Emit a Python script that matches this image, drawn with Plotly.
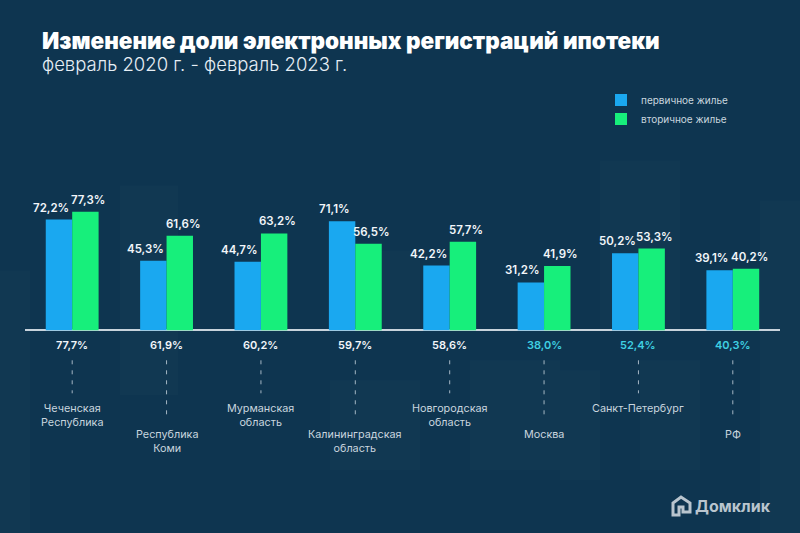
import plotly.graph_objects as go

# ---------------- data ----------------
regions = ["Чеченская<br>Республика", "Республика<br>Коми", "Мурманская<br>область",
           "Калининградская<br>область", "Новгородская<br>область", "Москва",
           "Санкт-Петербург", "РФ"]
primary = [72.2, 45.3, 44.7, 71.1, 42.2, 31.2, 50.2, 39.1]
secondary = [77.3, 61.6, 63.2, 56.5, 57.7, 41.9, 53.3, 40.2]
total = [77.7, 61.9, 60.2, 59.7, 58.6, 38.0, 52.4, 40.3]
highlight = [False, False, False, False, False, True, True, True]
series_names = ["первичное жилье", "вторичное жилье"]

title = "Изменение доли электронных регистраций ипотеки"
subtitle = "февраль 2020 г. - февраль 2023 г."

# ---------------- style ----------------
BG = "#0e3550"
BLUE = "#1aa8f0"
GREEN = "#17ef7b"
WHITE = "#f2f6fa"
CYAN = "#3fd0e2"
GREY = "#c9d5df"

W, H = 800, 533
L, R = 25, 20
Y_RANGE = [-127, 100]
PX_PER_UNIT = 1.535
plot_h = (Y_RANGE[1] - Y_RANGE[0]) * PX_PER_UNIT
T = 330 - Y_RANGE[1] * PX_PER_UNIT
B = H - T - plot_h
plot_w = W - L - R
BARGAP = 0.44
half = (1 - BARGAP) / 4  # offset of each bar centre from category centre


def px(xpix):
    return (xpix - L) / plot_w


def py(ypix):
    return (T + plot_h - ypix) / plot_h


def fmt(v):
    return f"{v:.1f}%".replace(".", ",")


xs = list(range(len(regions)))

fig = go.Figure()
fig.add_trace(go.Bar(x=xs, y=primary, name=series_names[0], marker_color=BLUE,
                     marker_line_width=0))
fig.add_trace(go.Bar(x=xs, y=secondary, name=series_names[1], marker_color=GREEN,
                     marker_line_width=0))

LBL_FONT = dict(family="Inter", size=11.5, color=WHITE, weight=600)
ann = []
for i in xs:
    ann.append(dict(x=i - half, y=primary[i], xref="x", yref="y", text=fmt(primary[i]),
                    showarrow=False, yanchor="bottom", yshift=3, xshift=-8, font=LBL_FONT))
    ann.append(dict(x=i + half, y=secondary[i], xref="x", yref="y", text=fmt(secondary[i]),
                    showarrow=False, yanchor="bottom", yshift=3, xshift=3, font=LBL_FONT))
    ann.append(dict(x=i, y=0, xref="x", yref="y", text=fmt(total[i]), showarrow=False,
                    yanchor="middle", yshift=-15,
                    font=dict(family="Inter", size=11, color=CYAN if highlight[i] else WHITE,
                              weight=600)))
    long_ = (i % 2 == 1)
    ann.append(dict(x=i, y=0, xref="x", yref="y", text=regions[i], showarrow=False,
                    yanchor="top", yshift=-96 if long_ else -70,
                    font=dict(family="Inter", size=10.8, color=GREY)))

shapes = []
for i in xs:
    long_ = (i % 2 == 1)
    shapes.append(dict(type="line", xref="x", yref="y", x0=i, x1=i,
                       ysizemode="pixel", yanchor=0, y0=-30, y1=-90 if long_ else -63,
                       line=dict(color="rgba(215,225,235,0.75)", width=1, dash="4px,6px"),
                       layer="above"))

# faint background blocks (decorative skyline)
blocks = [(0, 270, 30, 533), (120, 185, 178, 395), (355, 250, 420, 330),
          (330, 380, 420, 470), (470, 360, 560, 470), (560, 370, 600, 480),
          (600, 160, 680, 330), (640, 360, 700, 470), (760, 200, 800, 533)]
for x0, y0, x1, y1 in blocks:
    shapes.append(dict(type="rect", xref="paper", yref="paper",
                       x0=px(x0), x1=px(x1), y0=py(y1), y1=py(y0),
                       fillcolor="rgba(255,255,255,0.015)", line_width=0, layer="below"))

# logo icon (house outline)
house = [(673, 515), (673, 503), (681, 497), (690, 503), (690, 512), (683, 512),
         (683, 507), (679, 507), (679, 515)]
path = "M" + " L".join(f"{px(a):.5f},{py(b):.5f}" for a, b in house) + " Z"
shapes.append(dict(type="path", xref="paper", yref="paper", path=path,
                   line=dict(color="#b9c5ce", width=3), fillcolor="rgba(0,0,0,0)",
                   layer="above"))

ann.append(dict(xref="paper", yref="paper", x=px(693), y=py(506), xanchor="left",
                yanchor="middle", text="<b>Домклик</b>", showarrow=False,
                font=dict(family="Inter", size=16, color="#b9c5ce")))

# titles
ann.append(dict(xref="paper", yref="paper", x=px(40), y=py(40), xanchor="left",
                yanchor="middle", text=title, showarrow=False,
                font=dict(family="Inter", size=22.5, color="#ffffff", weight=900)))
ann.append(dict(xref="paper", yref="paper", x=px(40), y=py(63), xanchor="left",
                yanchor="middle", text=subtitle, showarrow=False,
                font=dict(family="Inter", size=18.5, color="#e6eef5", weight=300)))

fig.update_layout(
    width=W, height=H, autosize=False,
    margin=dict(l=L, r=R, t=T, b=B, pad=0),
    paper_bgcolor=BG, plot_bgcolor="rgba(0,0,0,0)",
    barmode="group", bargap=BARGAP, bargroupgap=0,
    separators=", ",
    showlegend=True,
    legend=dict(x=px(601), y=py(85), xanchor="left", yanchor="top",
                font=dict(family="Inter", size=10, color=GREY),
                bgcolor="rgba(0,0,0,0)", itemwidth=30, tracegroupgap=0,
                traceorder="normal"),
    xaxis=dict(range=[-0.5, len(regions) - 0.5], showgrid=False, zeroline=False,
               showticklabels=False, fixedrange=True),
    yaxis=dict(range=Y_RANGE, showgrid=False, zeroline=True,
               zerolinecolor="#c8d3dc", zerolinewidth=1.5, showticklabels=False,
               fixedrange=True),
    annotations=ann, shapes=shapes,
)

fig.write_html("out.html", config={"displayModeBar": False},
               post_script="document.body.style.margin='0';"
                           "document.body.style.background='" + BG + "';")
